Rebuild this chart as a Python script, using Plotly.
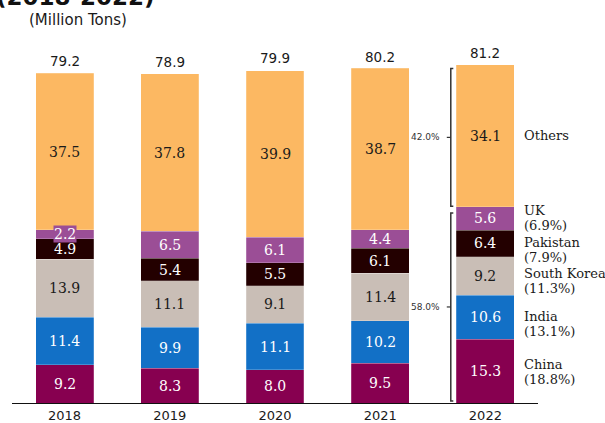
import plotly.graph_objects as go

# Yearly volumes by country, million tons
years = ["2018", "2019", "2020", "2021", "2022"]
series_names = ["China", "India", "South Korea", "Pakistan", "UK", "Others"]
china = [9.2, 8.3, 8.0, 9.5, 15.3]
india = [11.4, 9.9, 11.1, 10.2, 10.6]
south_korea = [13.9, 11.1, 9.1, 11.4, 9.2]
pakistan = [4.9, 5.4, 5.5, 6.1, 6.4]
uk = [2.2, 6.5, 6.1, 4.4, 5.6]
others = [37.5, 37.8, 39.9, 38.7, 34.1]
totals = [79.2, 78.9, 79.9, 80.2, 81.2]

series_values = [china, india, south_korea, pakistan, uk, others]
colors = ["#870050", "#1270C6", "#C9BEB6", "#230000", "#9B4E96", "#FCB862"]
text_colors = ["white", "white", "#1a1a1a", "white", "white", "#1a1a1a"]
legend_yshift = [-1, -7, -5, -7, 0, 0]

SERIF = "DejaVu Serif"
SANS = "DejaVu Sans"

xs = list(range(len(years)))
fig = go.Figure()
for name, vals, col in zip(series_names, series_values, colors):
    fig.add_trace(go.Bar(
        x=xs, y=vals, name=name, marker=dict(color=col, line=dict(color="rgba(255,255,255,0.35)", width=0.6)),
        width=0.55, hoverinfo="skip", showlegend=False,
    ))

annotations = []
# segment value labels
base = [0.0] * len(years)
for si, vals in enumerate(series_values):
    for i, v in enumerate(vals):
        ann = dict(x=i, y=base[i] + v / 2, xref="x", yref="y", text=f"{v:.1f}",
                   showarrow=False, font=dict(family=SERIF, size=14, color=text_colors[si]))
        if v < 3:
            ann.update(bgcolor=colors[si], borderpad=0)
        annotations.append(ann)
        base[i] += v

# totals above bars
for i, t in enumerate(totals):
    annotations.append(dict(x=i, y=t, xref="x", yref="y", text=f"{t:.1f}", yanchor="bottom",
                            yshift=2, showarrow=False, font=dict(family=SANS, size=13.5, color="#1a1a1a")))

# right-hand labels with 2022 shares (name line and share line)
last = len(years) - 1
total_last = totals[last]
label_font = dict(family=SERIF, size=13, color="#1a1a1a")
cum = 0.0
bounds = []
for si, vals in enumerate(series_values):
    v = vals[last]
    mid = cum + v / 2
    share = v / total_last * 100
    common = dict(x=last + 0.345, y=mid, xref="x", yref="y", xanchor="left", yanchor="middle",
                  showarrow=False, font=label_font)
    if series_names[si] == "Others":
        annotations.append(dict(common, text=series_names[si]))
    else:
        annotations.append(dict(common, text=series_names[si], yshift=legend_yshift[si] + 7.5))
        annotations.append(dict(common, text=f"({share:.1f}%)", yshift=legend_yshift[si] - 7.5))
    bounds.append((cum, cum + v))
    cum += v

# brackets: Others vs. named countries
others_lo, others_hi = bounds[-1]
named_share = others_lo / total_last * 100
others_share = (others_hi - others_lo) / total_last * 100
groups = [(others_lo + 0.1, others_hi - 0.9, f"{others_share:.1f}%"),
          (0.5, others_lo - 1.5, f"{named_share:.1f}%")]
xl, xt, xd = last - 0.329, last - 0.305, last - 0.367
shapes = []
for y0, y1, lab in groups:
    shapes.append(dict(type="path", xref="x", yref="y",
                       path=f"M {xt},{y0} L {xl},{y0} L {xl},{y1} L {xt},{y1}",
                       line=dict(color="#333333", width=1.5)))
    ym = (y0 + y1) / 2
    shapes.append(dict(type="line", xref="x", yref="y", x0=xd, x1=xl, y0=ym, y1=ym,
                       line=dict(color="#333333", width=1.2)))
    annotations.append(dict(x=last - 0.41, y=ym, xref="x", yref="y", text=lab, xanchor="right",
                            showarrow=False, font=dict(family=SANS, size=9, color="#333333")))

# titles
annotations.append(dict(x=0.2757, y=1.083, xref="paper", yref="paper", text="<b>(2018-2022)</b>",
                        xanchor="right", yanchor="middle", showarrow=False,
                        font=dict(family=SANS, size=23, color="#111111")))
annotations.append(dict(x=0.0285, y=1.021, xref="paper", yref="paper", text="(Million Tons)",
                        xanchor="left", yanchor="middle", showarrow=False,
                        font=dict(family=SANS, size=15, color="#1a1a1a")))

fig.update_layout(
    barmode="stack",
    width=605, height=423,
    margin=dict(l=12, r=67, t=28, b=20, autoexpand=False),
    paper_bgcolor="white", plot_bgcolor="white",
    annotations=annotations, shapes=shapes,
    xaxis=dict(range=[-0.5, 4.5], tickvals=xs, ticktext=years, showline=True, linecolor="#111111",
               linewidth=1.2, ticks="", showgrid=False, zeroline=False, fixedrange=True,
               automargin=False, tickfont=dict(family=SANS, size=13, color="#1a1a1a")),
    yaxis=dict(range=[0, 90], visible=False, showgrid=False, zeroline=False, fixedrange=True,
               automargin=False),
)

fig.write_html("out.html")
